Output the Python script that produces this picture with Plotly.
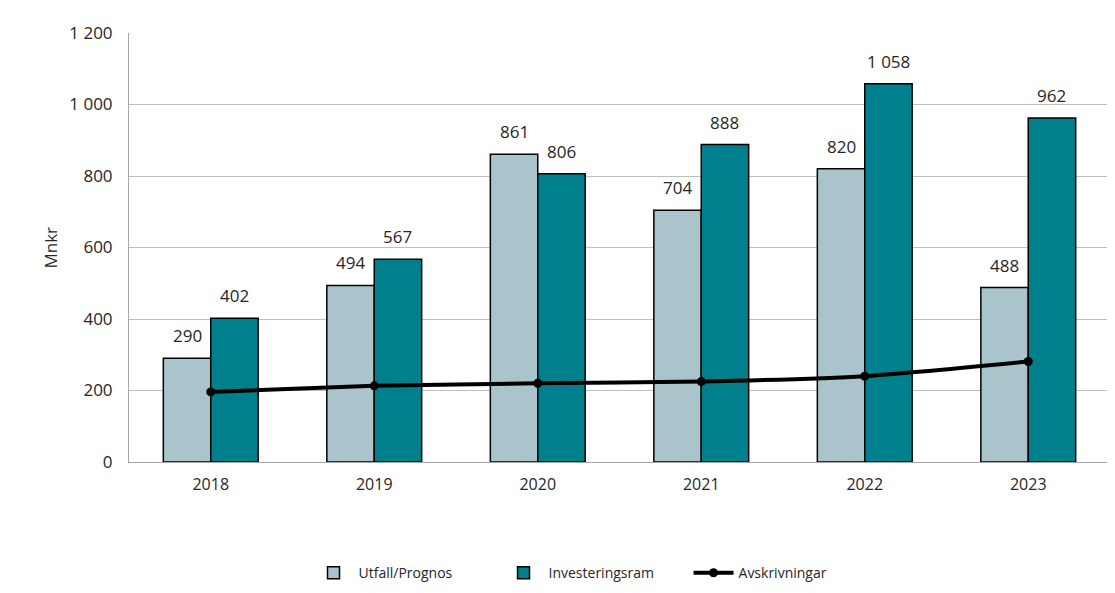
import plotly.graph_objects as go

years = ["2018", "2019", "2020", "2021", "2022", "2023"]
utfall = [290, 494, 861, 704, 820, 488]
investeringsram = [402, 567, 806, 888, 1058, 962]
avskrivningar = [196, 213, 220, 225, 240, 281]

def fmt(v):
    return f"{v:,}".replace(",", " ")

font = "Open Sans, Liberation Sans, sans-serif"
txt = "#262626"

fig = go.Figure()
fig.add_trace(go.Bar(
    x=years, y=utfall, name="Utfall/Prognos",
    marker=dict(color="#A9C4CA", line=dict(color="black", width=1.5)),
))
fig.add_trace(go.Bar(
    x=years, y=investeringsram, name="Investeringsram",
    marker=dict(color="#007F8C", line=dict(color="black", width=1.5)),
))
fig.add_trace(go.Scatter(
    x=years, y=avskrivningar, name="Avskrivningar",
    mode="lines+markers", line=dict(color="black", width=4, shape="spline", smoothing=0.6),
    marker=dict(color="black", size=9),
))

annotations = [dict(text="Mnkr", xref="paper", yref="paper", x=-0.0805, y=0.5,
                    textangle=-90, showarrow=False, font=dict(size=17, color=txt),
                    xanchor="center", yanchor="middle")]
for series, shift in ((utfall, -23.5), (investeringsram, 23.5)):
    for i, v in enumerate(series):
        annotations.append(dict(x=i, y=v, xref="x", yref="y", text=fmt(v), showarrow=False,
                                xshift=shift, yshift=9, xanchor="center", yanchor="bottom",
                                font=dict(size=17, color=txt)))

fig.update_layout(
    width=1107, height=578,
    margin=dict(l=121, r=5, t=25, b=124, autoexpand=False),
    paper_bgcolor="white", plot_bgcolor="white",
    barmode="group", bargap=0.42, bargroupgap=0,
    separators=", ",
    font=dict(family=font, size=15, color=txt),
    showlegend=True,
    legend=dict(orientation="h", x=0.183, xanchor="left", y=-0.259, yanchor="middle",
                font=dict(size=14, color=txt), traceorder="normal", itemwidth=40,
                entrywidth=135),
    xaxis=dict(type="category", categoryorder="array", categoryarray=years,
               range=[-0.5, len(years) - 0.5],
               showline=True, linecolor="#A6A6A6", linewidth=1,
               ticks="outside", ticklen=8, tickcolor="rgba(0,0,0,0)",
               tickfont=dict(size=16, color=txt), fixedrange=True, automargin=False),
    yaxis=dict(range=[0, 1200], dtick=200, showgrid=True, gridcolor="#BFBFBF", gridwidth=1,
               showline=True, linecolor="#A6A6A6", linewidth=1, zeroline=False,
               tickformat=",d", tickfont=dict(size=17, color=txt), automargin=False,
               ticks="outside", ticklen=12, tickcolor="rgba(0,0,0,0)"),
    annotations=annotations,
)

fig.write_html("out.html")
